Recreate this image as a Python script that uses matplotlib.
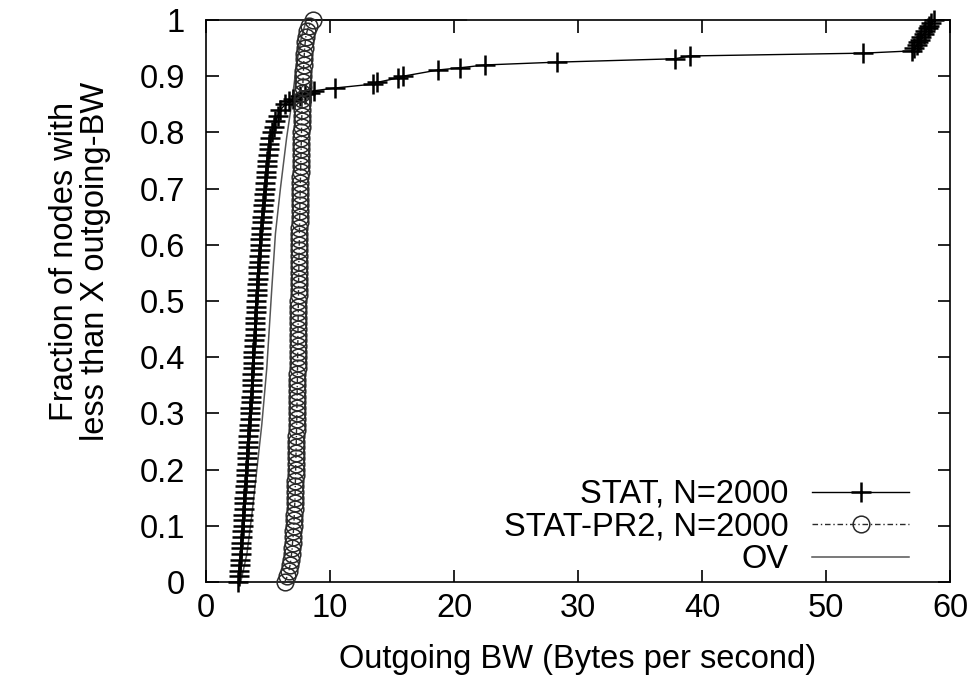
import matplotlib
matplotlib.use("Agg")
import matplotlib.pyplot as plt


# STAT, N=2000 : outgoing BW (x) vs. cumulative fraction (y)
STAT_X = [
    2.60, 2.65, 2.70, 2.72, 2.75, 2.80, 2.82, 2.85, 2.90, 2.93,
    2.97, 3.00, 3.02, 3.05, 3.08, 3.10, 3.13, 3.16, 3.20, 3.22,
    3.25, 3.28, 3.30, 3.33, 3.37, 3.40, 3.42, 3.45, 3.48, 3.52,
    3.55, 3.58, 3.60, 3.63, 3.67, 3.70, 3.72, 3.74, 3.76, 3.78,
    3.80, 3.83, 3.86, 3.90, 3.93, 3.95, 3.97, 3.99, 4.01, 4.03,
    4.05, 4.08, 4.11, 4.14, 4.17, 4.20, 4.23, 4.26, 4.29, 4.32,
    4.35, 4.39, 4.43, 4.47, 4.51, 4.55, 4.59, 4.63, 4.67, 4.71,
    4.75, 4.79, 4.83, 4.87, 4.91, 4.95, 5.00, 5.05, 5.10, 5.20,
    5.30, 5.45, 5.60, 5.80, 6.00, 6.40, 6.70, 7.00, 7.60, 8.00,
    8.40, 8.70, 10.4, 13.5, 13.8, 15.5, 15.9, 18.7, 20.5, 22.5,
    28.3, 37.8, 39.0, 53.0, 56.9, 57.1, 57.3, 57.4, 57.6, 57.7,
    57.9, 58.0, 58.2, 58.3, 58.5, 58.7,
]
STAT_Y = [
    0.00, 0.01, 0.02, 0.03, 0.04, 0.05, 0.06, 0.07, 0.08, 0.09,
    0.10, 0.11, 0.12, 0.13, 0.14, 0.15, 0.16, 0.17, 0.18, 0.19,
    0.20, 0.21, 0.22, 0.23, 0.24, 0.25, 0.26, 0.27, 0.28, 0.29,
    0.30, 0.31, 0.32, 0.33, 0.34, 0.35, 0.36, 0.37, 0.38, 0.39,
    0.40, 0.41, 0.42, 0.43, 0.44, 0.45, 0.46, 0.47, 0.48, 0.49,
    0.50, 0.51, 0.52, 0.53, 0.54, 0.55, 0.56, 0.57, 0.58, 0.59,
    0.60, 0.61, 0.62, 0.63, 0.64, 0.65, 0.66, 0.67, 0.68, 0.69,
    0.70, 0.71, 0.72, 0.73, 0.74, 0.75, 0.76, 0.77, 0.78, 0.79,
    0.80, 0.81, 0.82, 0.83, 0.84, 0.850, 0.855, 0.860, 0.865, 0.868,
    0.870, 0.874, 0.879, 0.886, 0.889, 0.897, 0.900, 0.911, 0.915, 0.920,
    0.925, 0.931, 0.936, 0.941, 0.945, 0.950, 0.955, 0.960, 0.965, 0.970,
    0.975, 0.980, 0.985, 0.990, 0.995, 1.000,
]

# STAT-PR2, N=2000
PR2_X = [
    6.35, 6.55, 6.68, 6.78, 6.85, 6.90, 6.95, 6.98, 7.02, 7.05,
    7.08, 7.10, 7.12, 7.14, 7.16, 7.18, 7.19, 7.20, 7.21, 7.22,
    7.23, 7.24, 7.25, 7.26, 7.27, 7.28, 7.29, 7.30, 7.31, 7.32,
    7.33, 7.33, 7.34, 7.35, 7.35, 7.36, 7.37, 7.37, 7.38, 7.38,
    7.39, 7.40, 7.40, 7.41, 7.41, 7.42, 7.43, 7.43, 7.44, 7.44,
    7.45, 7.46, 7.46, 7.47, 7.47, 7.48, 7.49, 7.49, 7.50, 7.51,
    7.52, 7.53, 7.53, 7.54, 7.55, 7.56, 7.57, 7.57, 7.58, 7.59,
    7.60, 7.61, 7.62, 7.63, 7.64, 7.65, 7.66, 7.67, 7.68, 7.69,
    7.70, 7.71, 7.72, 7.73, 7.74, 7.75, 7.77, 7.78, 7.80, 7.82,
    7.84, 7.86, 7.88, 7.90, 7.93, 7.96, 8.00, 8.05, 8.15, 8.30,
    8.60,
]
PR2_Y = [
    0.00, 0.01, 0.02, 0.03, 0.04, 0.05, 0.06, 0.07, 0.08, 0.09,
    0.10, 0.11, 0.12, 0.13, 0.14, 0.15, 0.16, 0.17, 0.18, 0.19,
    0.20, 0.21, 0.22, 0.23, 0.24, 0.25, 0.26, 0.27, 0.28, 0.29,
    0.30, 0.31, 0.32, 0.33, 0.34, 0.35, 0.36, 0.37, 0.38, 0.39,
    0.40, 0.41, 0.42, 0.43, 0.44, 0.45, 0.46, 0.47, 0.48, 0.49,
    0.50, 0.51, 0.52, 0.53, 0.54, 0.55, 0.56, 0.57, 0.58, 0.59,
    0.60, 0.61, 0.62, 0.63, 0.64, 0.65, 0.66, 0.67, 0.68, 0.69,
    0.70, 0.71, 0.72, 0.73, 0.74, 0.75, 0.76, 0.77, 0.78, 0.79,
    0.80, 0.81, 0.82, 0.83, 0.84, 0.85, 0.86, 0.87, 0.88, 0.89,
    0.90, 0.91, 0.92, 0.93, 0.94, 0.95, 0.96, 0.97, 0.98, 0.99,
    1.00,
]

# OV
OV_X = [2.8, 3.3, 3.7, 4.1, 4.5, 4.9, 5.3, 5.6, 6.0, 6.5, 6.9, 7.3, 7.7, 8.1, 21.0]
OV_Y = [0.00, 0.05, 0.12, 0.20, 0.28, 0.38, 0.52, 0.62, 0.70, 0.79, 0.85, 0.92, 0.97, 1.00, 1.00]

X_TICKS = [0, 10, 20, 30, 40, 50, 60]
Y_TICKS = [0, 0.1, 0.2, 0.3, 0.4, 0.5, 0.6, 0.7, 0.8, 0.9, 1]
Y_TICK_LABELS = ["0", "0.1", "0.2", "0.3", "0.4", "0.5", "0.6", "0.7", "0.8", "0.9", "1"]


def main():
    plt.rcParams["font.family"] = ["Liberation Sans", "DejaVu Sans"]
    fs = 23.5

    fig = plt.figure(figsize=(9.8, 6.85), dpi=100)
    ax = fig.add_axes([206 / 980, 1 - 582 / 685, 744 / 980, 562 / 685])

    ax.plot(STAT_X, STAT_Y, color="black", lw=1.0, marker="+", ms=14, mew=1.8,
            label="STAT, N=2000", clip_on=False, zorder=3)
    ax.plot(PR2_X, PR2_Y, color="#2a2a2a", lw=1.0, ls=(0, (4, 2, 1, 2)), marker="o",
            ms=12, mew=1.1, fillstyle="none", label="STAT-PR2, N=2000",
            clip_on=False, zorder=4)
    ax.plot(OV_X, OV_Y, color="#555555", lw=1.1, label="OV", clip_on=False, zorder=2)

    ax.set_xlim(0, 60)
    ax.set_ylim(0, 1)
    ax.set_xticks(X_TICKS)
    ax.set_yticks(Y_TICKS)
    ax.set_yticklabels(Y_TICK_LABELS)
    ax.tick_params(direction="in", length=9, width=1.2, top=True, right=True,
                   labelsize=fs)
    ax.tick_params(axis="y", pad=15)
    ax.tick_params(axis="x", pad=8)
    for sp in ax.spines.values():
        sp.set_linewidth(1.2)

    ax.set_xlabel("Outgoing BW (Bytes per second)", fontsize=fs, labelpad=14)
    ax.set_ylabel("Fraction of nodes with\nless than X outgoing-BW", fontsize=fs,
                  linespacing=1.0)
    ax.yaxis.set_label_coords(-0.128, 0.57)

    ax.legend(loc="lower right", bbox_to_anchor=(0.945, 0.012), frameon=False,
              markerfirst=False, fontsize=fs, handlelength=2.97, handletextpad=0.72,
              labelspacing=0.05, borderpad=0, borderaxespad=0)

    fig.savefig("out.png", dpi=100)
    plt.close(fig)


if __name__ == "__main__":
    main()
